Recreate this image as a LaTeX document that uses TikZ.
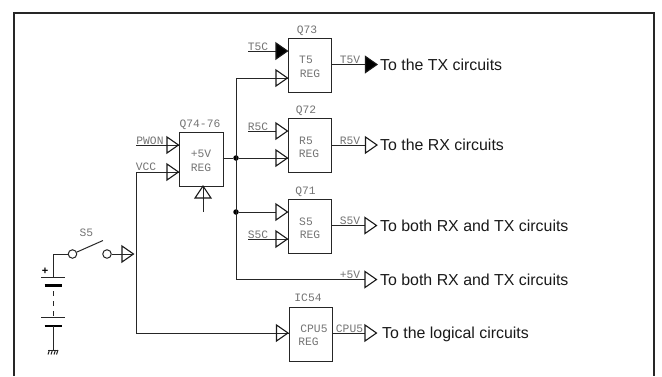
\documentclass[tikz,border=0pt]{standalone}
\usepackage{fontspec}
\setmainfont{Liberation Sans}
\setmonofont{Liberation Mono}
\tikzset{
 x=1pt,y=-1pt,
 wire/.style={draw=black!85,line width=1pt},
 box/.style={draw=black!85,line width=1pt,minimum width=43.5pt,minimum height=54pt,inner sep=0pt,anchor=north west},
 tri/.style={draw=black!90,line width=1.1pt,miter limit=4},
 small/.style={font=\ttfamily\fontsize{11.3}{12}\selectfont,text=black!55,inner sep=0pt},
 lbl/.style={font=\fontsize{15.9}{18}\selectfont,text=black!90,inner sep=0pt,anchor=base west},
 dotn/.style={circle,fill=black,inner sep=0pt,minimum size=5.5pt},
 ring/.style={circle,draw=black!85,line width=1pt,fill=white,inner sep=0pt,minimum size=8.5pt},
}
\newcommand{\rtri}[3][none]{\draw[tri,fill=#1] (#2,#3-8) -- (#2+11.5,#3) -- (#2,#3+8) -- cycle;}
\begin{document}
\begin{tikzpicture}
\useasboundingbox (0,0) rectangle (662,376);
\draw[black!85,line width=2pt] (13.5,376) -- (13.5,12.5) -- (654,12.5) -- (654,376);
% boxes
\node[box] (q73) at (287.5,37.5) {};
\node[box] (q72) at (287.5,118) {};
\node[box] (q71) at (287.5,198.7) {};
\node[box] (q74) at (179,131.5) {};
\node[box] (ic54) at (288.5,306.5) {};
\node[small] at (307,30.5) {Q73};
\node[small] at (306,110.5) {Q72};
\node[small] at (305.5,191.5) {Q71};
\node[small] at (200,124.5) {Q74-76};
\node[small] at (308,297.5) {IC54};
\node[small] at (306,59.5) {T5};
\node[small] at (310,73.5) {REG};
\node[small] at (306,140.5) {R5};
\node[small] at (309,153.5) {REG};
\node[small] at (306,221.5) {S5};
\node[small] at (310,234.5) {REG};
\node[small] at (201,153.5) {+5V};
\node[small] at (201,167.5) {REG};
\node[small] at (314,329) {CPU5};
\node[small] at (308.5,341.7) {REG};
% junctions
\coordinate (j1) at (236,158);
\coordinate (j2) at (236,212);
\node[dotn] (d1) at (j1) {};
\node[dotn] (d2) at (j2) {};
% wires
\draw[wire] (222.5,158) -- (d1) -- (287.5,158);
\draw[wire] (287.5,78) -- (236,78) -- (236,279.5) -- (365,279.5);
\draw[wire] (d2) -- (276,212);
\draw[wire] (248,51) -- (276,51);
\draw[wire] (248,131) -- (276,131);
\draw[wire] (248,239) -- (287.5,239);
\draw[wire] (136,145) -- (179,145);
\draw[wire] (136,172) -- (179,172);
\draw[wire] (136,172) -- (136,333) -- (288.5,333);
\draw[wire] (331,64.5) -- (365,64.5);
\draw[wire] (331,145) -- (365,145);
\draw[wire] (331,225.5) -- (365,225.5);
\draw[wire] (332,333) -- (365,333);
\draw[wire] (203,212) -- (203,186);
% triangles
\rtri[black]{276}{51}
\rtri{276}{78}
\rtri{276}{131}
\rtri{276}{158}
\rtri{276}{212}
\rtri{276}{239}
\rtri{167}{145}
\rtri{167}{172}
\rtri{276.5}{333}
\rtri[black]{365.5}{64.5}
\rtri{365.5}{145}
\rtri{365}{225.5}
\rtri{365}{279.5}
\rtri{365}{333}
\draw[tri] (195,198) -- (203,186) -- (211,198) -- cycle;
\rtri{122}{254}
% small labels
\node[small] at (150,141) {PWON};
\node[small] at (146,167) {VCC};
\node[small] at (258,47) {T5C};
\node[small] at (258,127) {R5C};
\node[small] at (258,235) {S5C};
\node[small] at (350,59.5) {T5V};
\node[small] at (350,140.5) {R5V};
\node[small] at (350,220.5) {S5V};
\node[small] at (350,274.5) {+5V};
\node[small] at (349.5,328.5) {CPU5};
\node[small] at (86.5,232.5) {S5};
% text
\node[lbl] at (380,70) {To the TX circuits};
\node[lbl] at (380,150.5) {To the RX circuits};
\node[lbl] at (380,231.5) {To both RX and TX circuits};
\node[lbl] at (380,285) {To both RX and TX circuits};
\node[lbl] at (382,338.5) {To the logical circuits};
% switch and battery
\node[ring] (r1) at (72.5,254) {};
\node[ring] (r2) at (107,254) {};
\coordinate (sw) at (103,240.5);
\draw[wire] (r1) -- (sw);
\draw[wire] (r2) -- (133,254);
\draw[wire] (r1) -- (53,254) -- (53,277);
\draw[wire] (41,277) -- (65,277);
\draw[black,line width=2.2pt] (44.5,285.5) -- (62,285.5);
\draw[wire,dash pattern=on 5pt off 5pt] (53,291) -- (53,317);
\draw[wire] (41,317) -- (65,317);
\draw[black,line width=2.2pt] (44.5,326) -- (62,326);
\draw[wire] (53,326) -- (53,350);
\draw[wire] (48,350) -- (58,350);
\draw[wire] (49.5,350) -- (48,354.5) (52.5,350) -- (51,354.5) (55.5,350) -- (54,354.5) (58,350) -- (56.5,354.5);
\node[font=\bfseries\fontsize{11}{11}\selectfont,inner sep=0pt] at (45,271.5) {+};
\end{tikzpicture}
\end{document}
